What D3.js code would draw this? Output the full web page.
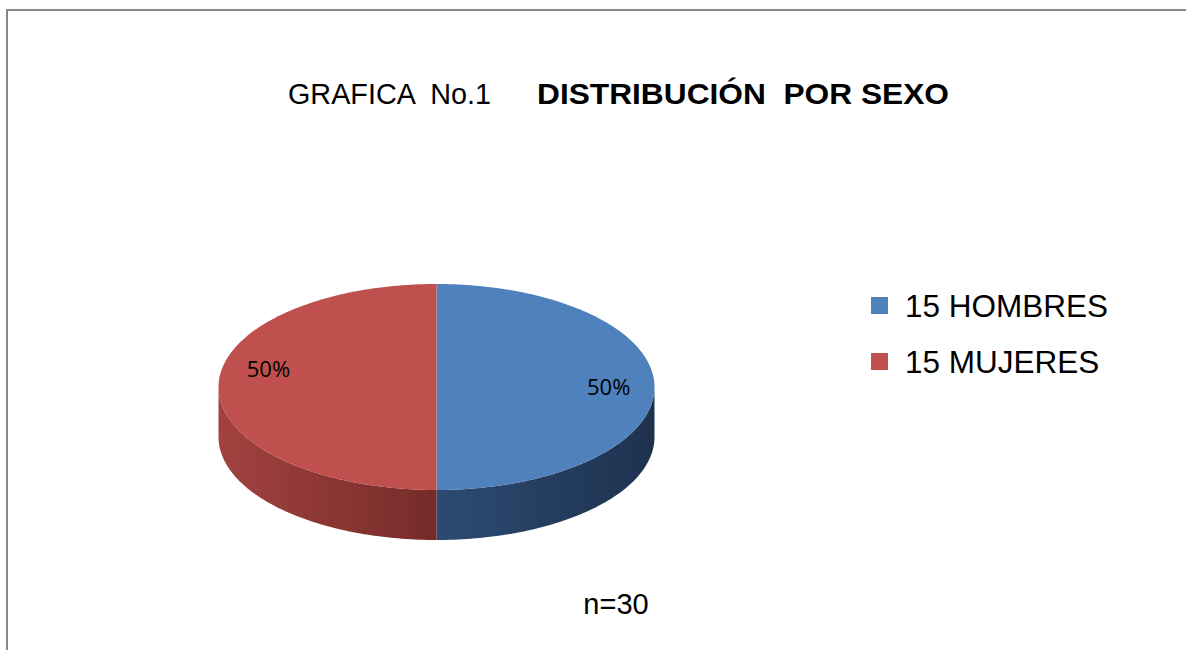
<!DOCTYPE html>
<html>
<head>
<meta charset="utf-8">
<script src="https://cdn.jsdelivr.net/npm/d3@7"></script>
<style>
  body { margin: 0; background: #fff; }
  svg { display: block; }
  text { white-space: pre; }
</style>
</head>
<body>
<div id="chart"></div>
<script>
// data
var categories = ["15 HOMBRES", "15 MUJERES"];
var counts = [15, 15];
var topColors = ["#4F81BD", "#C0504D"];
var sideColors = [["#2c4b72", "#1e324f"], ["#a2423f", "#752b29"]];
var titleLight = "GRAFICA  No.1";
var titleBold = "DISTRIBUCIÓN  POR SEXO";
var footNote = "n=30";

var width = 1187, height = 650;

var svg = d3.select("#chart").append("svg")
    .attr("width", width)
    .attr("height", height);

// frame (right/bottom edges fall outside the picture)
svg.append("path")
    .attr("d", "M7,660 L7,10 L1186,10")
    .attr("fill", "none")
    .attr("stroke", "#878787")
    .attr("stroke-width", 2);

// title, a slightly condensed arial in the original
var title = svg.append("g")
    .attr("font-family", "'Liberation Sans', Arial, sans-serif")
    .attr("font-size", 30)
    .attr("fill", "#000");
title.append("text")
    .attr("x", 288).attr("y", 104)
    .attr("textLength", 203).attr("lengthAdjust", "spacingAndGlyphs")
    .text(titleLight);
title.append("text")
    .attr("x", 537).attr("y", 104)
    .attr("font-weight", "bold")
    .attr("textLength", 412).attr("lengthAdjust", "spacingAndGlyphs")
    .text(titleBold);

// 3d pie geometry
var cx = 436.5, cy = 387, rx = 218, ry = 103, depth = 50;

var pie = d3.pie().sort(null).startAngle(0).endAngle(2 * Math.PI);
var arcs = pie(counts);

function pt(a, dy) {
  return [cx + rx * Math.sin(a), cy - ry * Math.cos(a) + (dy || 0)];
}
function rim(a0, a1, dy) {
  var n = Math.max(2, Math.ceil(Math.abs(a1 - a0) / 0.02));
  return d3.range(n + 1).map(function(i) { return pt(a0 + (a1 - a0) * i / n, dy); });
}
var line = d3.line();

var defs = svg.append("defs");
sideColors.forEach(function(c, i) {
  var g = defs.append("linearGradient")
      .attr("id", "side" + i)
      .attr("gradientUnits", "userSpaceOnUse")
      .attr("x1", i === 0 ? cx : cx - rx).attr("x2", i === 0 ? cx + rx : cx)
      .attr("y1", 0).attr("y2", 0);
  g.append("stop").attr("offset", "0%").attr("stop-color", c[0]);
  g.append("stop").attr("offset", "100%").attr("stop-color", c[1]);
});

// side walls, only the front half of the rim is visible
arcs.forEach(function(d, i) {
  var a0 = Math.max(d.startAngle, Math.PI / 2);
  var a1 = Math.min(d.endAngle, 3 * Math.PI / 2);
  if (a1 <= a0) return;
  var pts = rim(a0, a1, 0).concat(rim(a1, a0, depth));
  svg.append("path")
      .attr("d", line(pts) + "Z")
      .attr("fill", "url(#side" + i + ")");
});

// top faces
svg.selectAll("path.top")
  .data(arcs)
  .enter().append("path")
    .attr("class", "top")
    .attr("d", function(d) {
      return line([[cx, cy]].concat(rim(d.startAngle, d.endAngle, 0))) + "Z";
    })
    .attr("fill", function(d, i) { return topColors[i]; });

// percentage labels
var total = d3.sum(counts);
var tweak = [0, 0.22];
svg.selectAll("text.pct")
  .data(arcs)
  .enter().append("text")
    .attr("class", "pct")
    .attr("font-family", "'Open Sans', sans-serif")
    .attr("font-size", 22)
    .attr("text-anchor", "middle")
    .attr("dy", "0.35em")
    .attr("x", function(d, i) {
      var a = (d.startAngle + d.endAngle) / 2 + tweak[i];
      return cx + rx * 0.79 * Math.sin(a);
    })
    .attr("y", function(d, i) {
      var a = (d.startAngle + d.endAngle) / 2 + tweak[i];
      return cy - ry * 0.79 * Math.cos(a);
    })
    .text(function(d) { return d3.format(".0%")(d.value / total); });

// legend
var legend = svg.selectAll("g.legend")
  .data(categories)
  .enter().append("g")
    .attr("class", "legend")
    .attr("transform", function(d, i) { return "translate(871," + (297 + i * 56) + ")"; });
legend.append("rect")
    .attr("width", 17).attr("height", 17)
    .attr("fill", function(d, i) { return topColors[i]; });
legend.append("text")
    .attr("x", 34).attr("y", 20)
    .attr("font-family", "'Liberation Sans', Arial, sans-serif")
    .attr("font-size", 31.5)
    .text(function(d) { return d; });

// sample size
svg.append("text")
    .attr("x", 616).attr("y", 614)
    .attr("text-anchor", "middle")
    .attr("font-family", "'Liberation Sans', Arial, sans-serif")
    .attr("font-size", 29)
    .text(footNote);
</script>
</body>
</html>
